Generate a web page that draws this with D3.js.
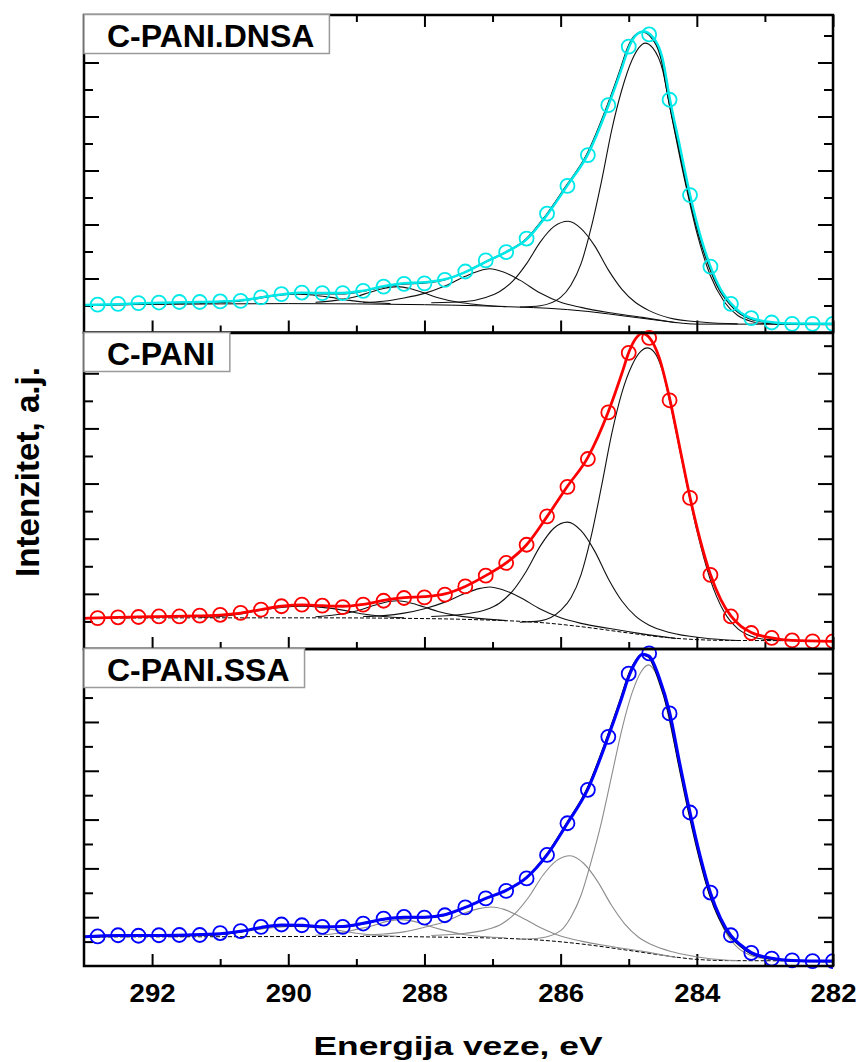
<!DOCTYPE html>
<html>
<head>
<meta charset="utf-8">
<script src="https://cdn.jsdelivr.net/npm/d3@7"></script>
<style>
  body { margin: 0; background: #fff; }
  svg { display: block; }
  text { font-family: "Liberation Sans", Arial, sans-serif; font-weight: bold; fill: #000; }
</style>
</head>
<body>
<svg id="chart" width="858" height="1062"></svg>
<script>
// binding energy of the measured points (eV)
const energy = [292.8, 292.5, 292.2, 291.9, 291.6, 291.3, 291.0, 290.7, 290.4, 290.1, 289.8, 289.5,
  289.2, 288.9, 288.6, 288.3, 288.0, 287.7, 287.4, 287.1, 286.8, 286.5, 286.2, 285.9, 285.6, 285.3,
  285.0, 284.7, 284.4, 284.1, 283.8, 283.5, 283.2, 282.9, 282.6, 282.3, 282.0];

// measured intensities, a.u. (one unit = one minor y tick)
const dnsaData = [1.03, 1.06, 1.09, 1.11, 1.13, 1.13, 1.15, 1.17, 1.30, 1.42, 1.48, 1.46, 1.46, 1.54,
  1.70, 1.80, 1.82, 1.95, 2.26, 2.67, 2.98, 3.48, 4.40, 5.43, 6.57, 8.42, 10.59, 11.04, 8.62, 5.09,
  2.44, 1.06, 0.53, 0.37, 0.32, 0.32, 0.32];
const paniData = [1.12, 1.15, 1.16, 1.18, 1.18, 1.21, 1.24, 1.31, 1.43, 1.55, 1.61, 1.57, 1.52, 1.61,
  1.75, 1.85, 1.87, 1.97, 2.27, 2.66, 3.12, 3.78, 4.81, 5.88, 6.89, 8.58, 10.74, 11.28, 9.02, 5.48,
  2.69, 1.18, 0.58, 0.40, 0.31, 0.28, 0.28];
const ssaData = [1.21, 1.26, 1.24, 1.26, 1.27, 1.27, 1.35, 1.43, 1.60, 1.70, 1.67, 1.60, 1.60, 1.74,
  1.94, 2.01, 1.98, 2.08, 2.40, 2.77, 3.08, 3.59, 4.55, 5.85, 7.22, 9.39, 11.98, 12.81, 10.35, 6.29,
  3.01, 1.26, 0.54, 0.30, 0.23, 0.20, 0.20];

// fitted envelopes [eV, intensity]
const dnsaFit = [[293.0, 1.02], [292.5, 1.05], [292.0, 1.09], [291.5, 1.12], [291.0, 1.15], [290.7, 1.19],
  [290.4, 1.30], [290.1, 1.41], [289.8, 1.47], [289.5, 1.46], [289.2, 1.46], [288.9, 1.55], [288.6, 1.71],
  [288.3, 1.82], [288.0, 1.86], [287.7, 1.97], [287.4, 2.24], [287.1, 2.62], [286.8, 2.98], [286.5, 3.45],
  [286.2, 4.35], [285.9, 5.45], [285.6, 6.6], [285.3, 8.4], [285.1, 9.8], [285.0, 10.55], [284.9, 11.0],
  [284.78, 11.15], [284.65, 10.95], [284.5, 10.1], [284.4, 8.7], [284.25, 6.9], [284.1, 5.1], [283.95, 3.6],
  [283.8, 2.45], [283.65, 1.6], [283.5, 1.08], [283.35, 0.72], [283.2, 0.53], [282.9, 0.38], [282.6, 0.33],
  [282.0, 0.32]];
const paniFit = [[293.0, 1.11], [292.5, 1.15], [292.0, 1.17], [291.5, 1.19], [291.0, 1.23], [290.7, 1.30],
  [290.4, 1.43], [290.1, 1.55], [289.8, 1.60], [289.5, 1.57], [289.2, 1.55], [288.9, 1.62], [288.6, 1.76],
  [288.3, 1.86], [288.0, 1.90], [287.7, 2.0], [287.4, 2.27], [287.1, 2.66], [286.8, 3.12], [286.5, 3.78],
  [286.2, 4.8], [285.9, 5.9], [285.6, 6.95], [285.3, 8.6], [285.1, 10.0], [285.0, 10.75], [284.9, 11.25],
  [284.8, 11.45], [284.7, 11.3], [284.55, 10.55], [284.4, 9.1], [284.25, 7.3], [284.1, 5.5], [283.95, 3.95],
  [283.8, 2.7], [283.65, 1.8], [283.5, 1.2], [283.35, 0.82], [283.2, 0.6], [282.9, 0.40], [282.6, 0.31],
  [282.0, 0.28]];
const ssaFit = [[293.0, 1.20], [292.5, 1.25], [292.0, 1.25], [291.5, 1.27], [291.0, 1.32], [290.7, 1.42],
  [290.4, 1.58], [290.1, 1.68], [289.8, 1.67], [289.5, 1.61], [289.2, 1.62], [288.9, 1.75], [288.6, 1.92],
  [288.3, 2.0], [288.0, 2.0], [287.7, 2.1], [287.4, 2.4], [287.1, 2.77], [286.8, 3.1], [286.5, 3.62],
  [286.2, 4.55], [285.9, 5.85], [285.6, 7.25], [285.3, 9.4], [285.1, 11.0], [285.0, 11.85], [284.9, 12.45],
  [284.8, 12.78], [284.7, 12.7], [284.55, 11.8], [284.4, 10.4], [284.25, 8.3], [284.1, 6.3], [283.95, 4.5],
  [283.8, 3.0], [283.65, 1.95], [283.5, 1.25], [283.35, 0.85], [283.2, 0.55], [282.9, 0.32], [282.6, 0.23],
  [282.0, 0.20]];

// fitted component peaks (background included) and backgrounds
const dnsaPeaks = [
  [[286.6, 0.94], [286.3, 0.99], [286.0, 1.3], [285.85, 1.75], [285.7, 2.55], [285.55, 3.9], [285.4, 5.6],
   [285.25, 7.5], [285.1, 9.0], [284.95, 10.1], [284.85, 10.55], [284.76, 10.72], [284.65, 10.55],
   [284.5, 9.7], [284.4, 8.4], [284.2, 5.9], [284.0, 3.7], [283.8, 2.1], [283.6, 1.15], [283.4, 0.63],
   [283.2, 0.41], [283.0, 0.33], [282.5, 0.31], [282.0, 0.31]],
  [[287.9, 1.10], [287.4, 1.15], [287.1, 1.30], [286.9, 1.51], [286.7, 1.91], [286.5, 2.55], [286.3, 3.35],
   [286.1, 3.92], [285.89, 4.12], [285.7, 3.85], [285.5, 3.21], [285.3, 2.32], [285.1, 1.60], [284.9, 1.11],
   [284.7, 0.81], [284.4, 0.54], [283.9, 0.38], [283.4, 0.32]],
  [[288.9, 1.11], [288.6, 1.16], [288.3, 1.28], [288.0, 1.45], [287.7, 1.72], [287.4, 2.08], [287.2, 2.28],
   [287.04, 2.36], [286.85, 2.25], [286.6, 1.94], [286.3, 1.46], [286.0, 1.12], [285.7, 0.93], [285.3, 0.74],
   [284.8, 0.56], [284.3, 0.36]],
  [[289.6, 1.12], [289.3, 1.19], [289.0, 1.33], [288.8, 1.49], [288.6, 1.63], [288.4, 1.70], [288.2, 1.62],
   [288.0, 1.46], [287.8, 1.29], [287.5, 1.12], [287.2, 1.03], [286.8, 0.96]],
  [[291.3, 1.08], [291.0, 1.11], [290.7, 1.19], [290.4, 1.31], [290.15, 1.40], [289.92, 1.43], [289.7, 1.40],
   [289.4, 1.31], [289.1, 1.19], [288.8, 1.11], [288.5, 1.07]]
];
const dnsaBackground = [[293, 1.02], [292, 1.04], [291, 1.06], [290, 1.07], [289, 1.06], [288.65, 1.05],
  [288, 1.03], [287.2, 0.99], [286.6, 0.94], [286.2, 0.90], [285.6, 0.78], [285.0, 0.59], [284.5, 0.43],
  [284.2, 0.34], [284.0, 0.31], [283, 0.31], [282, 0.31]];

const paniPeaks = [
  [[286.6, 0.97], [286.3, 1.02], [286.0, 1.4], [285.85, 1.85], [285.7, 2.7], [285.55, 4.1], [285.4, 5.9],
   [285.25, 7.8], [285.1, 9.3], [284.95, 10.3], [284.82, 10.8], [284.73, 10.92], [284.62, 10.75],
   [284.5, 10.05], [284.4, 9.0], [284.2, 6.6], [284.0, 4.3], [283.8, 2.5], [283.6, 1.35], [283.4, 0.74],
   [283.2, 0.46], [283.0, 0.35], [282.5, 0.31], [282.0, 0.30]],
  [[287.9, 1.18], [287.4, 1.27], [287.1, 1.42], [286.9, 1.66], [286.7, 2.12], [286.5, 2.84], [286.3, 3.73],
   [286.1, 4.38], [285.9, 4.60], [285.7, 4.29], [285.5, 3.55], [285.3, 2.55], [285.1, 1.74], [284.9, 1.19],
   [284.7, 0.86], [284.4, 0.60], [283.9, 0.40], [283.4, 0.31]],
  [[288.9, 1.18], [288.6, 1.21], [288.3, 1.30], [288.0, 1.46], [287.7, 1.70], [287.4, 2.02], [287.2, 2.19],
   [287.04, 2.25], [286.85, 2.15], [286.6, 1.88], [286.3, 1.45], [286.0, 1.13], [285.7, 0.93], [285.3, 0.75],
   [284.8, 0.55], [284.3, 0.38]],
  [[289.6, 1.17], [289.3, 1.24], [289.0, 1.38], [288.8, 1.53], [288.6, 1.68], [288.4, 1.75], [288.2, 1.67],
   [288.0, 1.52], [287.8, 1.36], [287.5, 1.20], [287.2, 1.11], [286.8, 1.03]],
  [[291.3, 1.15], [291.0, 1.18], [290.7, 1.27], [290.4, 1.41], [290.1, 1.51], [289.8, 1.55], [289.5, 1.51],
   [289.2, 1.41], [288.9, 1.27], [288.6, 1.18], [288.3, 1.13]]
];
const paniBackground = [[293, 1.12], [291, 1.13], [289.5, 1.13], [288.65, 1.12], [287.2, 1.06], [286.2, 0.94],
  [285.6, 0.78], [285.0, 0.58], [284.5, 0.43], [284.0, 0.34], [283.5, 0.31], [282, 0.30]];

const ssaPeaks = [
  [[286.6, 1.10], [286.3, 1.15], [286.0, 1.45], [285.85, 2.0], [285.7, 2.9], [285.55, 4.3], [285.4, 5.9],
   [285.25, 7.8], [285.1, 9.7], [284.95, 11.2], [284.82, 12.05], [284.71, 12.34], [284.6, 12.0],
   [284.5, 11.3], [284.4, 10.0], [284.2, 7.5], [284.0, 4.9], [283.8, 2.8], [283.6, 1.5], [283.4, 0.75],
   [283.2, 0.42], [283.0, 0.30], [282.5, 0.23], [282.0, 0.21]],
  [[287.9, 1.25], [287.4, 1.34], [287.1, 1.48], [286.86, 1.73], [286.66, 2.18], [286.46, 2.86], [286.26, 3.72],
   [286.06, 4.32], [285.86, 4.52], [285.66, 4.20], [285.46, 3.48], [285.26, 2.52], [285.06, 1.73],
   [284.86, 1.19], [284.66, 0.87], [284.36, 0.58], [283.86, 0.32], [283.4, 0.22]],
  [[288.9, 1.26], [288.6, 1.31], [288.3, 1.40], [288.0, 1.59], [287.7, 1.81], [287.4, 2.18], [287.2, 2.35],
   [287.02, 2.42], [286.83, 2.32], [286.6, 2.03], [286.3, 1.58], [286.0, 1.23], [285.7, 1.02], [285.3, 0.82],
   [284.8, 0.60], [284.3, 0.35]],
  [[289.6, 1.26], [289.3, 1.33], [289.0, 1.50], [288.75, 1.66], [288.55, 1.83], [288.35, 1.90], [288.15, 1.83],
   [287.95, 1.65], [287.75, 1.49], [287.45, 1.30], [287.15, 1.21], [286.8, 1.15]],
  [[291.4, 1.23], [291.1, 1.26], [290.8, 1.34], [290.5, 1.48], [290.2, 1.58], [289.9, 1.62], [289.6, 1.58],
   [289.3, 1.48], [289.0, 1.34], [288.7, 1.26], [288.4, 1.22]]
];
const ssaBackground = [[293, 1.19], [291, 1.20], [289.5, 1.21], [288.65, 1.21], [287.7, 1.18], [286.7, 1.12],
  [286.2, 1.04], [285.72, 0.91], [285.0, 0.64], [284.5, 0.44], [284.0, 0.27], [283.5, 0.22], [282, 0.21]];

// axis ticks and labels
const xMajorTicks = [292, 290, 288, 286, 284, 282];
const xMinorTicks = [291, 289, 287, 285, 283];
const xTitle = "Energija veze, eV";
const yTitle = "Intenzitet, a.j.";

const svg = d3.select("#chart");
const left = 84, right = 833;
const x = d3.scaleLinear().domain([293, 282]).range([left, right]);

svg.append("defs").append("clipPath").attr("id", "plot-clip")
  .append("rect").attr("x", left).attr("y", 0).attr("width", right - left).attr("height", 1062);

const panels = [
  { label: "C-PANI.DNSA", top: 15, bottom: 332.5, yMax: 11.76, data: dnsaData, fit: dnsaFit,
    peaks: dnsaPeaks, bg: dnsaBackground, color: "#00e8e8", fitWidth: 2.5, peakColor: "#111",
    bgDash: null, underlay: true, topTicks: true, xLabels: false },
  { label: "C-PANI", top: 333, bottom: 649, yMax: 11.46, data: paniData, fit: paniFit,
    peaks: paniPeaks, bg: paniBackground, color: "#ff0000", fitWidth: 2.8, peakColor: "#111",
    bgDash: "4,2", underlay: false, topTicks: false, xLabels: false },
  { label: "C-PANI.SSA", top: 649, bottom: 966, yMax: 12.99, data: ssaData, fit: ssaFit,
    peaks: ssaPeaks, bg: ssaBackground, color: "#0000ff", fitWidth: 3, peakColor: "#8c8c8c",
    bgDash: "4,2", underlay: true, topTicks: false, xLabels: true }
];

function styleAxis(g) {
  g.select(".domain").remove();
  g.selectAll(".tick line").attr("stroke", "#000").attr("stroke-width", 2);
}

panels.forEach((p) => {
  const y = d3.scaleLinear().domain([0, p.yMax]).range([p.bottom, p.top]);
  const g = svg.append("g");
  const line = d3.line().x((d) => x(d[0])).y((d) => y(d[1])).curve(d3.curveMonotoneX);

  // y ticks (no labels)
  const yTicks = d3.range(1, p.yMax - 0.1);
  const yMajor = yTicks.filter((v) => v % 2 === 0);
  const yMinor = yTicks.filter((v) => v % 2 === 1);
  [[yMajor, 15], [yMinor, 9]].forEach(([vals, len]) => {
    g.append("g").attr("transform", `translate(${left},0)`)
      .call(d3.axisLeft(y).tickValues(vals).tickSize(-len).tickFormat(""))
      .call(styleAxis);
    g.append("g").attr("transform", `translate(${right},0)`)
      .call(d3.axisRight(y).tickValues(vals).tickSize(-len).tickFormat(""))
      .call(styleAxis);
  });

  // x ticks pointing inward
  g.append("g").attr("transform", `translate(0,${p.bottom})`)
    .call(d3.axisBottom(x).tickValues(xMajorTicks).tickSize(-12)
      .tickFormat(p.xLabels ? d3.format("d") : ""))
    .call(styleAxis)
    .call((ax) => ax.selectAll("text")
      .attr("y", 36).attr("dy", null)
      .style("font-size", "26px")
      .attr("textLength", 46).attr("lengthAdjust", "spacingAndGlyphs"));
  g.append("g").attr("transform", `translate(0,${p.bottom})`)
    .call(d3.axisBottom(x).tickValues(xMinorTicks).tickSize(-7).tickFormat(""))
    .call(styleAxis);
  if (p.topTicks) {
    g.append("g").attr("transform", `translate(0,${p.top})`)
      .call(d3.axisTop(x).tickValues(xMajorTicks).tickSize(-12).tickFormat(""))
      .call(styleAxis);
    g.append("g").attr("transform", `translate(0,${p.top})`)
      .call(d3.axisTop(x).tickValues(xMinorTicks).tickSize(-7).tickFormat(""))
      .call(styleAxis);
  }

  const plot = g.append("g").attr("clip-path", "url(#plot-clip)");

  // background
  plot.append("path").datum(p.bg)
    .attr("d", line).attr("fill", "none")
    .attr("stroke", "#000").attr("stroke-width", 1)
    .attr("stroke-dasharray", p.bgDash);

  // components
  plot.selectAll(".peak").data(p.peaks).join("path")
    .attr("class", "peak")
    .attr("d", line).attr("fill", "none")
    .attr("stroke", p.peakColor).attr("stroke-width", 1.1);

  // envelope
  if (p.underlay) {
    plot.append("path").datum(p.fit)
      .attr("d", line).attr("fill", "none")
      .attr("stroke", "#000").attr("stroke-width", 1.6)
      .attr("transform", "translate(-1.2,0.6)");
  }
  plot.append("path").datum(p.fit)
    .attr("d", line).attr("fill", "none")
    .attr("stroke", p.color).attr("stroke-width", p.fitWidth);

  // measured points
  plot.selectAll("circle").data(energy.map((e, i) => [e, p.data[i]])).join("circle")
    .attr("cx", (d) => x(d[0])).attr("cy", (d) => y(d[1]))
    .attr("r", 7).attr("fill", "none")
    .attr("stroke", p.color).attr("stroke-width", 1.8);

  // frame
  g.append("rect")
    .attr("x", left).attr("y", p.top)
    .attr("width", right - left).attr("height", p.bottom - p.top)
    .attr("fill", "none").attr("stroke", "#000").attr("stroke-width", 2.5);
});

// sample label boxes drawn over the frames
panels.forEach((p) => {
  const box = svg.append("g");
  const rect = box.append("rect").attr("fill", "#fff").attr("stroke", "#9a9a9a").attr("stroke-width", 1.5);
  const t = box.append("text")
    .attr("x", left + 23).attr("y", p.top + 32)
    .style("font-size", "32px")
    .text(p.label);
  const w = t.node().getComputedTextLength();
  rect.attr("x", left).attr("y", p.top - 0.5).attr("width", w + 38).attr("height", 39);
});

// axis titles
svg.append("text")
  .attr("x", 458).attr("y", 1055)
  .attr("text-anchor", "middle")
  .style("font-size", "26px")
  .attr("textLength", 289).attr("lengthAdjust", "spacingAndGlyphs")
  .text(xTitle);

svg.append("text")
  .attr("transform", "translate(39,472) rotate(-90)")
  .attr("text-anchor", "middle")
  .style("font-size", "34px")
  .attr("textLength", 210).attr("lengthAdjust", "spacingAndGlyphs")
  .text(yTitle);
</script>
</body>
</html>
